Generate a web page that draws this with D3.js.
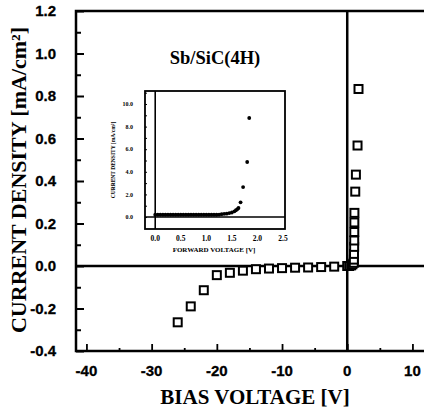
<!DOCTYPE html>
<html>
<head>
<meta charset="utf-8">
<style>
  body { margin: 0; background: #fff; }
  svg text { fill: #000; }
  .tick-lab { font-family: "Liberation Sans", Arial, sans-serif; font-weight: bold; font-size: 15px; stroke: #000; stroke-width: 0.3px; }
  .title { font-family: "Liberation Serif", "Times New Roman", serif; font-weight: bold; }
  .small { font-family: "Liberation Serif", serif; font-weight: bold; }
</style>
</head>
<body>
<script src="https://cdn.jsdelivr.net/npm/d3@7"></script>
<script>

// main I-V curve (bias voltage in V, current density in mA/cm2)
var biasV = [-26, -24, -22, -20, -18, -16, -14, -12, -10, -8, -6, -4, -2,
             0, 0.3, 0.6, 0.8, 1.0, 1.02, 1.04, 1.06, 1.07, 1.08, 1.09, 1.1, 1.23, 1.33, 1.58, 1.73];
var currentJ = [-0.265, -0.19, -0.114, -0.043, -0.032, -0.022, -0.015, -0.012, -0.010, -0.008, -0.007, -0.005, -0.003,
                0.0, 0.0, 0.003, 0.008, 0.015, 0.03, 0.057, 0.09, 0.12, 0.16, 0.205, 0.25, 0.35, 0.43, 0.567, 0.833];

var xTicks = [-40, -30, -20, -10, 0, 10];
var yTicks = [-0.4, -0.2, 0.0, 0.2, 0.4, 0.6, 0.8, 1.0, 1.2];

// inset: forward bias
var fwdV = [0.0, 0.05, 0.1, 0.15, 0.2, 0.25, 0.3, 0.35, 0.4, 0.45, 0.5, 0.55, 0.6, 0.65, 0.7, 0.75,
            0.8, 0.85, 0.9, 0.95, 1.0, 1.05, 1.1, 1.15, 1.2, 1.25, 1.3, 1.35, 1.4, 1.45, 1.5, 1.55,
            1.58, 1.61, 1.63, 1.67, 1.72, 1.80, 1.84];
var fwdJ = [0.2, 0.2, 0.2, 0.2, 0.2, 0.2, 0.2, 0.2, 0.2, 0.2, 0.2, 0.2, 0.2, 0.2, 0.2, 0.2,
            0.2, 0.2, 0.2, 0.2, 0.2, 0.2, 0.2, 0.2, 0.2, 0.22, 0.25, 0.28, 0.3, 0.35, 0.4, 0.5,
            0.6, 0.7, 0.8, 1.3, 2.65, 4.87, 8.76];
var insetXTicks = [0.0, 0.5, 1.0, 1.5, 2.0, 2.5];
var insetYTicks = [0.0, 2.0, 4.0, 6.0, 8.0, 10.0];

var W = 424, H = 409;
var svg = d3.select("body").append("svg").attr("width", W).attr("height", H);

// main scales
var x = d3.scaleLinear().domain([-41.6, 12.5]).range([76, 76 + 54.1 * 6.52]);
var y = d3.scaleLinear().domain([-0.4, 1.2]).range([351, 11]);

svg.append("rect")
    .attr("x", x(-41.6)).attr("y", y(1.2))
    .attr("width", x(12.5) - x(-41.6)).attr("height", y(-0.4) - y(1.2))
    .attr("fill", "none").attr("stroke", "#000").attr("stroke-width", 2.5);

// inward ticks
var yAxis = d3.axisRight(y).tickValues(d3.range(-4, 13).map(d => d / 10)).tickSize(5).tickFormat("");
svg.append("g").attr("transform", `translate(${x(-41.6)},0)`).call(yAxis)
    .call(g => g.select(".domain").remove())
    .selectAll("line").attr("stroke-width", 2)
    .attr("x2", d => Math.round(d * 10) % 2 === 0 ? 8 : 5);

var xAxis = d3.axisTop(x).tickValues(d3.range(-40, 15, 5)).tickSize(6).tickFormat("");
svg.append("g").attr("transform", `translate(0,${y(-0.4)})`).call(xAxis)
    .call(g => g.select(".domain").remove())
    .selectAll("line").attr("stroke-width", 1.8)
    .attr("y2", d => d % 10 === 0 ? -7 : -3);

// tick labels
svg.append("g").selectAll("text").data(yTicks).join("text")
    .attr("class", "tick-lab")
    .attr("x", 56).attr("y", d => y(d)).attr("dy", "0.36em")
    .attr("text-anchor", "end")
    .text(d => d3.format(".1f")(d).replace("−", "-"));

svg.append("g").selectAll("text").data(xTicks).join("text")
    .attr("class", "tick-lab")
    .attr("x", d => x(d)).attr("y", 376)
    .attr("text-anchor", "middle")
    .text(d => String(d));

// zero lines
svg.append("line").attr("x1", x(-41.6)).attr("x2", x(12.5)).attr("y1", y(0)).attr("y2", y(0))
    .attr("stroke", "#000").attr("stroke-width", 2.5);
svg.append("line").attr("x1", x(0)).attr("x2", x(0)).attr("y1", y(1.2)).attr("y2", y(-0.4))
    .attr("stroke", "#000").attr("stroke-width", 2.5);

// data squares
svg.append("g").selectAll("rect").data(biasV.map((v, i) => [v, currentJ[i]])).join("rect")
    .attr("x", d => x(d[0]) - 4).attr("y", d => y(d[1]) - 4)
    .attr("width", 8).attr("height", 8)
    .attr("fill", "#fff").attr("stroke", "#000").attr("stroke-width", 2);

// titles
svg.append("text").attr("class", "title")
    .attr("x", 215).attr("y", 64).attr("text-anchor", "middle")
    .style("font-size", "18.5px").text("Sb/SiC(4H)");

svg.append("text").attr("class", "title")
    .attr("x", 255).attr("y", 404).attr("text-anchor", "middle")
    .style("font-size", "21px").text("BIAS VOLTAGE [V]");

svg.append("text").attr("class", "title")
    .attr("transform", "translate(26,180) rotate(-90)")
    .attr("text-anchor", "middle")
    .style("font-size", "22px").text("CURRENT DENSITY [mA/cm²]");

// inset
var ix = d3.scaleLinear().domain([-0.2, 2.54]).range([145, 285]);
var iy = d3.scaleLinear().domain([-1.06, 11.15]).range([229, 91]);
var inset = svg.append("g");

inset.append("rect")
    .attr("x", ix(-0.2)).attr("y", iy(11.15))
    .attr("width", ix(2.54) - ix(-0.2)).attr("height", iy(-1.06) - iy(11.15))
    .attr("fill", "#fff").attr("stroke", "#000").attr("stroke-width", 1.8);

inset.append("g").attr("transform", `translate(${ix(-0.2)},0)`)
    .call(d3.axisRight(iy).tickValues(d3.range(0, 12, 1)).tickSize(2).tickFormat(""))
    .call(g => g.select(".domain").remove());

inset.append("line").attr("x1", ix(-0.2)).attr("x2", ix(2.54)).attr("y1", iy(0)).attr("y2", iy(0))
    .attr("stroke", "#000").attr("stroke-width", 1.6);
inset.append("line").attr("x1", ix(0)).attr("x2", ix(0)).attr("y1", iy(11.15)).attr("y2", iy(-1.06))
    .attr("stroke", "#000").attr("stroke-width", 1.6);

inset.append("g").selectAll("circle").data(fwdV.map((v, i) => [v, fwdJ[i]])).join("circle")
    .attr("cx", d => ix(d[0])).attr("cy", d => iy(d[1]))
    .attr("r", 1.9).attr("fill", "#000");

inset.append("g").selectAll("text").data(insetYTicks).join("text")
    .attr("class", "small").style("font-size", "6px")
    .attr("x", 133).attr("y", d => iy(d)).attr("dy", "0.35em")
    .attr("text-anchor", "end")
    .text(d => d3.format(".1f")(d));

inset.append("g").selectAll("text").data(insetXTicks).join("text")
    .attr("class", "small").style("font-size", "7.5px")
    .attr("x", d => ix(d)).attr("y", 241)
    .attr("text-anchor", "middle")
    .text(d => d3.format(".1f")(d));

inset.append("text").attr("class", "small").style("font-size", "7px")
    .attr("x", 214).attr("y", 252).attr("text-anchor", "middle")
    .text("FORWARD VOLTAGE [V]");

inset.append("text").attr("class", "small").style("font-size", "5.5px")
    .attr("transform", "translate(115,160) rotate(-90)")
    .attr("text-anchor", "middle")
    .text("CURRENT DENSITY [mA/cm²]");

</script>
</body>
</html>
